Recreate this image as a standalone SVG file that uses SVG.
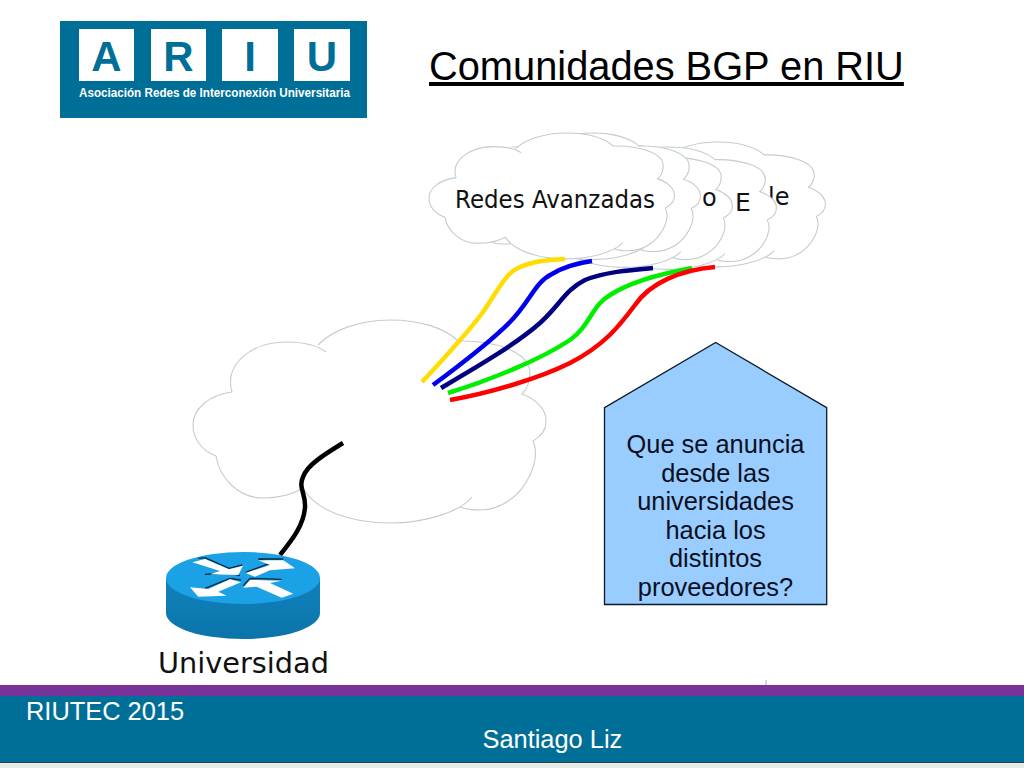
<svg xmlns="http://www.w3.org/2000/svg" xmlns:xlink="http://www.w3.org/1999/xlink" width="1024" height="768" viewBox="0 0 1024 768">
<style>
.fill{fill:#fff;stroke:none}
.edge{fill:none;stroke:#c4ccd0;stroke-width:1.1;vector-effect:non-scaling-stroke}
.wire{fill:none;stroke-width:4.500}
.sans{font-family:"Liberation Sans",Arial,sans-serif}
.dv{font-family:"DejaVu Sans",sans-serif;fill:#111}
.logoL{font-family:"Liberation Sans",Arial,sans-serif;font-weight:700;font-size:42px;fill:#006f98;text-anchor:middle}
.call{font-family:"Liberation Sans",Arial,sans-serif;font-size:25.4px;fill:#0a0f1e;text-anchor:middle}
.foot{font-family:"Liberation Sans",Arial,sans-serif;font-size:25.4px;fill:#fff}
.arrow{fill:#fff;stroke:none}
.shadow{fill:none;stroke:#0b2a3a;stroke-width:4}
</style>
<defs>
<linearGradient id="side" x1="0" y1="0" x2="0" y2="1"><stop offset="0" stop-color="#1182bc"/><stop offset="1" stop-color="#0b74aa"/></linearGradient>
<g id="cloud">
<path class="fill" d="M232,392C224,365 250,342 287,342C296,342 310,342 318,345C332,330 360,320 390,320C420,320 445,328 458,341C495,340 530,352 530,373C530,381 527,389 522,394C536,399 547,410 546,422C546,431 540,437 533,441C537,450 536,462 530,475C520,497 500,510 480,510C472,510 465,509 460,507C440,518 415,523 390,523C350,523 315,510 303,490C290,496 275,498 263,498C240,498 220,480 216,456C200,450 193,437 193,425C193,408 210,395 232,392Z"/>
<path class="edge" d="M232,392C224,365 250,342 287,342C304,342 318,346 326,352M318,345C332,330 360,320 390,320C420,320 445,328 458,341C495,340 530,352 530,373C530,381 527,389 522,394C536,399 547,410 546,422C546,431 540,437 533,441C537,450 536,462 530,475C520,497 500,510 480,510C472,510 465,509 460,507M472,497C460,512 425,523 390,523C350,523 315,510 303,488C290,496 275,498 263,498C240,498 220,480 216,456C200,450 193,437 193,425C193,408 210,395 232,392"/>
</g>
</defs>

<rect width="1024" height="768" fill="#fff"/>

<g id="logo">
<rect x="60" y="21" width="307" height="97" fill="#006f98"/>
<rect x="79" y="29" width="55" height="52" fill="#fff"/>
<rect x="151" y="29" width="55" height="52" fill="#fff"/>
<rect x="222" y="29" width="56" height="52" fill="#fff"/>
<rect x="294" y="29" width="56" height="52" fill="#fff"/>
<text class="logoL" x="106.500" y="71">A</text>
<text class="logoL" x="178.500" y="71">R</text>
<text class="logoL" x="250" y="71">I</text>
<text class="logoL" x="322" y="71">U</text>
<text class="sans" x="79" y="97" font-size="12.500" font-weight="700" fill="#fff" textLength="271" lengthAdjust="spacingAndGlyphs">Asociación Redes de Interconexión Universitaria</text>
</g>

<g id="title">
<text class="sans" x="429" y="80" font-size="39.800" fill="#000" text-decoration="underline">Comunidades BGP en RIU</text>
</g>

<g id="cloud-5">
<use xlink:href="#cloud" href="#cloud" transform="translate(580 142) scale(.695 .615) translate(-193 -320)"/>
<text class="dv" x="768" y="205" font-size="24">le</text>
</g>
<g id="cloud-4">
<use xlink:href="#cloud" href="#cloud" transform="translate(531 147) scale(.695 .603) translate(-193 -320)"/>
<text class="dv" x="735" y="211" font-size="25">E</text>
</g>
<g id="cloud-3">
<use xlink:href="#cloud" href="#cloud" transform="translate(487 145) scale(.695 .603) translate(-193 -320)"/>
<text class="dv" x="702" y="206" font-size="24">o</text>
</g>
<g id="cloud-2">
<use xlink:href="#cloud" href="#cloud" transform="translate(455 133) scale(.695 .624) translate(-193 -320)"/>
</g>
<g id="cloud-1">
<use xlink:href="#cloud" href="#cloud" transform="translate(429 133) scale(.695 .62) translate(-193 -320)"/>
<text class="dv" x="455" y="208" font-size="24" textLength="200" lengthAdjust="spacingAndGlyphs">Redes Avanzadas</text>
</g>

<g id="cloud-centro">
<use xlink:href="#cloud" href="#cloud"/>
</g>

<g id="connectors">
<path class="wire" stroke="#ffdd00" d="M422,382C450,352 470,330 483,312C497,292 505,274 518,268C532,261 548,260 565,259"/>
<path class="wire" stroke="#0000ee" d="M433,385C460,365 490,342 510,322C530,302 535,282 552,274C565,266 578,263 592,261"/>
<path class="wire" stroke="#000080" d="M441,388C475,368 515,345 540,323C560,305 565,290 585,280C605,272 630,270 653,268"/>
<path class="wire" stroke="#00ee00" d="M448,393C490,380 540,360 570,340C590,326 592,305 610,295C630,282 665,273 692,268"/>
<path class="wire" stroke="#ff0000" d="M450,400C490,393 540,378 570,363C605,345 620,325 635,305C650,283 680,270 715,267"/>
<path class="wire" stroke="#000" d="M343,443C325,454 307,465 303,477C298,488 306,494 305,507C304,525 292,540 280,555"/>
</g>

<g id="router">
<path d="M166,578V613A77,26 0 0 0 320,613V578Z" fill="url(#side)"/>
<ellipse cx="243" cy="578" rx="77" ry="26" fill="#1ba1e6"/>
<g transform="translate(155 545) scale(.3333)">
<polyline class="shadow" points="150,88 222,84 255,92"/>
<polyline class="shadow" points="130,40 150,38 222,70 262,60"/>
<polyline class="shadow" points="272,82 345,55 310,42 385,42"/>
<polyline class="shadow" points="150,130 225,100 258,105"/>
<polyline class="shadow" points="265,122 285,100 380,103"/>
<polygon class="arrow" points="112,52 150,42 222,73 264,62 250,90 165,88 195,78"/>
<polygon class="arrow" points="272,84 345,60 310,46 385,46 420,70 345,76 300,95"/>
<polygon class="arrow" points="105,127 160,132 225,103 258,112 190,140 215,152 130,155"/>
<polygon class="arrow" points="265,128 285,105 380,107 345,114 415,146 380,158 305,125"/>
</g>
<text class="dv" x="158" y="673" font-size="29" textLength="171" lengthAdjust="spacingAndGlyphs">Universidad</text>
</g>

<g id="callout">
<polygon points="715.700,342.500 826.700,407.700 826.700,604.500 604.500,604.500 604.500,407.700" fill="#99ccff" stroke="#0a1a2a" stroke-width="1.300"/>
<text class="call" x="715.500" y="453">Que se anuncia</text>
<text class="call" x="715.500" y="482">desde las</text>
<text class="call" x="715.500" y="510">universidades</text>
<text class="call" x="715.500" y="539">hacia los</text>
<text class="call" x="715.500" y="567">distintos</text>
<text class="call" x="715.500" y="596">proveedores?</text>
</g>

<g id="footer">
<rect x="0" y="696" width="1024" height="66" fill="#006f98"/>
<rect x="0" y="685" width="1024" height="11" fill="#773399"/>
<rect x="0" y="762" width="1024" height="1.200" fill="#2c4650"/>
<rect x="0" y="763" width="1024" height="5" fill="#e8ece8"/>
<rect x="765.500" y="680" width="1" height="5" fill="#b79fc8"/>
<text class="foot" x="26" y="720">RIUTEC 2015</text>
<text class="foot" x="482.500" y="748">Santiago Liz</text>
</g>
</svg>
